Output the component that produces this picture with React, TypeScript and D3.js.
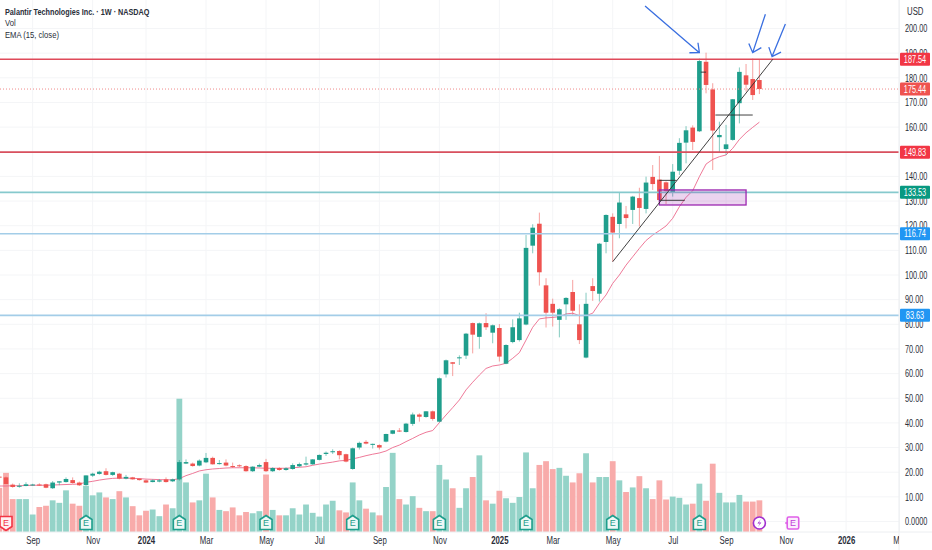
import { useEffect, useRef } from 'react';
import * as d3 from 'd3';

// weekly candles
const opens = [
    18.2, 17.9, 14.95, 14.3, 14.4, 14.7, 15.0, 15.1, 13.5, 15.8,
    16.0, 16.8, 15.8, 14.8, 18.6, 19.3, 20.4, 18.9, 19.4, 17.4,
    17.9, 17.4, 16.7, 16.0, 16.2, 17.1, 16.3, 17.1, 23.5, 23.5,
    22.7, 24.0, 25.8, 23.3, 23.9, 22.5, 22.8, 22.5, 20.4, 22.25,
    24.1, 20.4, 21.7, 20.9, 21.3, 22.4, 23.1, 23.2, 25.0, 27.4,
    28.1, 28.6, 27.3, 21.3, 30.0, 32.3, 31.2, 31.0, 32.4, 35.6,
    36.9, 36.3, 39.6, 43.4, 42.4, 44.7, 40.5, 59.7, 64.6, 66.2,
    67.3, 80.5, 74.9, 80.5, 76.6, 78.5, 64.0, 72.8, 73.6, 79.9,
    111.9, 120.8, 95.8, 88.3, 81.8, 88.1, 93.1, 80.0, 66.5, 95.5,
    92.4, 113.4, 123.6, 120.7, 124.6, 126.4, 131.2, 126.8, 139.8, 138.7,
    137.6, 133.4, 142.3, 153.7, 159.8, 158.3, 186.5, 175.3, 155.9, 151.1,
    154.8, 169.7, 181.0, 179.5, 179.1,
];
const highs = [
    18.4, 18.2, 15.4, 15.5, 15.9, 15.3, 15.5, 15.35, 16.4, 16.3,
    17.9, 17.9, 16.2, 18.7, 19.8, 20.6, 21.6, 20.2, 19.7, 18.9,
    18.1, 17.5, 17.0, 17.1, 17.25, 17.9, 17.4, 24.95, 25.2, 23.9,
    25.2, 27.8, 26.3, 24.95, 25.2, 23.9, 23.2, 22.8, 22.4, 23.5,
    25.4, 22.0, 22.0, 22.0, 23.6, 23.9, 26.3, 25.3, 27.2, 28.4,
    29.3, 28.9, 27.5, 30.0, 32.4, 33.0, 31.6, 31.3, 35.6, 37.1,
    37.9, 40.0, 44.2, 43.9, 44.8, 45.0, 58.4, 65.7, 64.7, 67.4,
    76.5, 80.7, 80.7, 84.5, 79.9, 80.1, 71.9, 82.0, 84.7, 116.2,
    120.6, 125.3, 98.7, 90.4, 86.5, 91.0, 98.0, 88.1, 92.8, 98.7,
    113.0, 124.6, 125.0, 133.4, 128.0, 132.1, 135.4, 139.9, 144.6, 148.3,
    138.0, 145.0, 155.5, 160.4, 160.7, 187.8, 190.2, 177.8, 162.2, 160.9,
    171.4, 184.2, 185.6, 187.8, 187.5,
];
const lows = [
    17.6, 15.2, 13.7, 13.7, 14.3, 14.5, 14.4, 13.5, 13.2, 14.7,
    15.8, 15.35, 14.4, 14.5, 18.1, 19.0, 18.7, 18.5, 17.1, 17.1,
    17.0, 16.6, 15.6, 15.9, 15.9, 15.8, 16.0, 16.6, 23.3, 22.25,
    22.4, 23.7, 23.1, 23.1, 22.4, 21.7, 22.0, 20.2, 20.1, 22.0,
    20.1, 20.1, 20.6, 20.6, 21.0, 22.1, 22.65, 23.0, 24.8, 26.6,
    27.4, 25.2, 24.0, 21.0, 29.2, 31.3, 29.6, 29.2, 32.1, 35.4,
    36.3, 36.1, 38.8, 40.5, 42.1, 40.9, 40.2, 58.4, 59.0, 63.5,
    65.9, 68.2, 70.1, 77.7, 72.3, 64.9, 63.8, 72.3, 73.0, 79.6,
    108.8, 95.7, 78.7, 79.1, 74.7, 81.8, 83.8, 72.0, 66.2, 89.5,
    89.2, 108.8, 105.4, 114.9, 118.9, 120.7, 119.6, 125.0, 134.5, 129.1,
    128.8, 131.8, 140.6, 145.3, 150.7, 158.0, 173.7, 142.6, 149.6, 148.7,
    154.5, 161.5, 174.4, 171.0, 173.4,
];
const closes = [
    17.8, 15.2, 14.0, 14.5, 15.1, 15.0, 14.7, 13.7, 15.8, 16.3,
    17.25, 15.6, 14.7, 18.7, 19.4, 20.2, 18.9, 20.0, 17.4, 18.1,
    17.1, 16.8, 15.8, 16.7, 16.7, 16.0, 17.1, 24.1, 24.1, 22.5,
    24.7, 25.8, 23.2, 23.7, 22.7, 22.4, 22.4, 20.4, 22.25, 22.9,
    20.4, 21.7, 20.9, 21.6, 22.9, 23.3, 23.6, 25.2, 27.0, 27.9,
    28.5, 26.9, 24.3, 29.7, 31.9, 31.6, 31.5, 30.0, 35.5, 37.0,
    36.5, 39.7, 43.4, 42.5, 44.7, 41.6, 58.1, 65.4, 64.0, 66.6,
    76.2, 75.8, 80.4, 78.8, 79.6, 66.9, 71.6, 78.8, 82.4, 111.0,
    119.2, 101.1, 84.7, 84.7, 86.1, 90.7, 85.5, 73.6, 88.3, 93.5,
    112.7, 124.35, 117.2, 129.4, 123.1, 131.8, 127.2, 137.5, 136.9, 130.4,
    134.0, 141.9, 153.6, 158.7, 154.0, 186.8, 177.1, 158.6, 156.8, 153.0,
    171.3, 182.4, 177.2, 173.0, 175.44,
];
const volumes = [
    106, 142, 79, 79, 79, 42, 60, 63, 76, 70,
    100, 68, 63, 111, 88, 95, 83, 79, 98, 83,
    62, 40, 51, 54, 38, 66, 57, 320, 119, 71,
    76, 140, 83, 53, 50, 59, 40, 48, 45, 50,
    138, 53, 40, 40, 57, 42, 66, 46, 37, 66,
    75, 52, 47, 119, 76, 56, 47, 40, 108, 190,
    79, 66, 86, 58, 50, 50, 161, 126, 105, 58,
    105, 132, 184, 76, 68, 99, 81, 70, 84, 191,
    105, 161, 170, 151, 154, 135, 119, 141, 189, 119,
    132, 132, 170, 124, 96, 107, 134, 105, 79, 124,
    78, 85, 82, 66, 68, 116, 75, 164, 94, 71,
    71, 89, 73, 73, 76,
];
const ema15 = [
    14.4, 14.4, 14.5, 14.5, 14.6, 14.7, 14.7, 14.7, 14.8, 14.9,
    15.0, 15.1, 15.2, 15.9, 16.3, 16.8, 17.2, 17.5, 17.6, 17.6,
    17.5, 17.4, 17.2, 17.1, 17.0, 16.9, 16.9, 17.4, 18.6, 19.5,
    20.5, 21.0, 21.3, 21.5, 21.7, 21.8, 21.8, 21.8, 21.8, 21.7,
    21.6, 21.6, 21.6, 21.6, 21.8, 22.0, 22.2, 22.8, 23.3, 23.7,
    24.1, 24.6, 24.8, 25.4, 26.0, 26.7, 27.3, 27.8, 28.6, 30.0,
    31.0, 32.4, 33.7, 35.1, 36.2, 36.9, 40.1, 43.2, 46.2, 49.3,
    53.4, 56.5, 59.4, 62.1, 63.1, 63.5, 64.2, 66.2, 68.5, 73.6,
    78.8, 82.2, 82.6, 82.8, 83.1, 84.2, 84.5, 83.5, 83.5, 84.5,
    88.5, 91.9, 96.6, 100.0, 104.0, 107.4, 110.8, 114.0, 116.2, 118.0,
    119.9, 123.0, 127.7, 131.5, 134.2, 139.9, 145.0, 146.9, 148.0, 148.7,
    151.4, 155.0, 157.7, 159.9, 162.0,
];

const priceTicks = d3.range(0, 210, 10);
const timeTickIdx = [5, 14, 22, 31, 40, 48, 57, 66, 75, 83, 92, 101, 109, 118, 127, 135];
const timeTickLabels = ['Sep', 'Nov', '2024', 'Mar', 'May', 'Jul', 'Sep', 'Nov', '2025', 'Mar', 'May', 'Jul', 'Sep', 'Nov', '2026', 'Mar'];

const levels = [187.54, 149.83, 133.53, 116.74, 83.63];
const levelLine = ['#df4a5a', '#d9505e', '#86c9cd', '#a3cde8', '#a3cde8'];
const levelTag = ['#f23645', '#f23645', '#089981', '#2196f3', '#2196f3'];
const lastPrice = 175.44;

// drawings, [idx, price] at both ends
const blackLines = [
    [[92, 105.4], [116, 187.5]],
    [[107.4, 164.9], [113, 164.9]],
    [[105.2, 182.3], [106, 182.3]],
    [[99, 138.4], [101.6, 138.4]],
    [[99, 130.3], [102.8, 130.3]],
];
const blueArrows = [
    [[96.85, 209.1], [105, 190.2]],
    [[114.9, 205.8], [113, 190.2]],
    [[117.9, 201.8], [115.9, 188.6]],
];
const purpleBox = { from: 99, to: 112, top: 134.5, bottom: 128.4 };

const earningsIdx = [13, 27, 40, 53, 66, 79, 92, 105];
const earningsMissIdx = [1];
const splitIdx = 114;
const nextEarningsIdx = 119;

const W = 932;
const H = 550;
const FONT = '"Liberation Sans", sans-serif';
const AXIS_SIZE = 10;

// the reference font is narrower than anything installed, so squeeze the glyphs
const squeeze = (sel: any, factor = 0.73) => {
    sel.each(function (this: SVGTextElement) {
        const len = this.getComputedTextLength();
        d3.select(this).attr('textLength', len * factor).attr('lengthAdjust', 'spacingAndGlyphs');
    });
};

export default function App() {
    const ref = useRef<SVGSVGElement>(null);

    useEffect(() => {
        if (!ref.current) return;
        const svg = d3.select(ref.current);
        svg.selectAll('*').remove();

        const paneRight = 899;
        const paneBottom = 532;

        const x = d3.scaleLinear().domain([0, 135]).range([-0.67, 899.4]);
        const y = d3.scaleLinear().domain([0, 200]).range([521.5, 28.5]);
        const yVol = d3.scaleLinear().domain([0, 320]).range([paneBottom, 398.7]);

        const upCandle = '#1f9e8c';
        const downCandle = '#ef5350';
        const isUp = (i: number) => closes[i] >= opens[i];

        svg.append('rect').attr('width', W).attr('height', H).attr('fill', '#ffffff');

        svg.append('defs').append('clipPath').attr('id', 'pane')
            .append('rect').attr('width', paneRight).attr('height', H);

        // Grid
        const grid = svg.append('g').attr('stroke', '#f4f5f7').attr('stroke-width', 1);
        grid.selectAll('.h')
            .data(priceTicks)
            .enter()
            .append('line')
            .attr('x1', 0)
            .attr('x2', paneRight)
            .attr('y1', d => y(d))
            .attr('y2', d => y(d));
        grid.selectAll('.v')
            .data(timeTickIdx)
            .enter()
            .append('line')
            .attr('x1', d => x(d))
            .attr('x2', d => x(d))
            .attr('y1', 0)
            .attr('y2', paneBottom);

        const pane = svg.append('g').attr('clip-path', 'url(#pane)');

        // Volume
        pane.selectAll('.vol')
            .data(volumes)
            .enter()
            .append('rect')
            .attr('x', (_, i) => x(i) - 2.9)
            .attr('width', 5.8)
            .attr('y', d => yVol(d))
            .attr('height', d => paneBottom - yVol(d))
            .attr('fill', (_, i) => (isUp(i) ? '#94d3c8' : '#f8abaa'));

        // EMA
        const emaLine = d3.line<number>().x((_, i) => x(i)).y(d => y(d));
        pane.append('path')
            .attr('d', emaLine(ema15))
            .attr('fill', 'none')
            .attr('stroke', '#ec6a8c')
            .attr('stroke-width', 0.9);

        // Candles
        pane.selectAll('.wick')
            .data(closes)
            .enter()
            .append('line')
            .attr('x1', (_, i) => x(i))
            .attr('x2', (_, i) => x(i))
            .attr('y1', (_, i) => y(highs[i]))
            .attr('y2', (_, i) => y(lows[i]))
            .attr('stroke', (_, i) => (isUp(i) ? upCandle : downCandle))
            .attr('stroke-opacity', 0.55)
            .attr('stroke-width', 1);
        pane.selectAll('.body')
            .data(closes)
            .enter()
            .append('rect')
            .attr('x', (_, i) => x(i) - 2.3)
            .attr('width', 4.6)
            .attr('y', (_, i) => y(Math.max(opens[i], closes[i])))
            .attr('height', (_, i) => Math.max(1, Math.abs(y(opens[i]) - y(closes[i]))))
            .attr('fill', (_, i) => (isUp(i) ? upCandle : downCandle));

        // Horizontal levels
        pane.selectAll('.level')
            .data(levels)
            .enter()
            .append('line')
            .attr('x1', 0)
            .attr('x2', paneRight)
            .attr('y1', d => y(d))
            .attr('y2', d => y(d))
            .attr('stroke', (_, i) => levelLine[i])
            .attr('stroke-width', 1.6);
        pane.append('line')
            .attr('x1', 0)
            .attr('x2', paneRight)
            .attr('y1', y(lastPrice))
            .attr('y2', y(lastPrice))
            .attr('stroke', '#f08a8a')
            .attr('stroke-width', 1)
            .attr('stroke-dasharray', '1 2');

        // Purple zone
        pane.append('rect')
            .attr('x', x(purpleBox.from))
            .attr('y', y(purpleBox.top))
            .attr('width', x(purpleBox.to) - x(purpleBox.from))
            .attr('height', y(purpleBox.bottom) - y(purpleBox.top))
            .attr('fill', '#9c27b0')
            .attr('fill-opacity', 0.2)
            .attr('stroke', '#9c27b0')
            .attr('stroke-width', 1.3);

        // Trend line and short black rays
        pane.selectAll('.black')
            .data(blackLines)
            .enter()
            .append('line')
            .attr('x1', d => x(d[0][0]))
            .attr('y1', d => y(d[0][1]))
            .attr('x2', d => x(d[1][0]))
            .attr('y2', d => y(d[1][1]))
            .attr('stroke', '#2b2b2b')
            .attr('stroke-width', 0.9);

        // Blue arrows
        const arrowPath = (a: number[][]) => {
            const x0 = x(a[0][0]), y0 = y(a[0][1]), x1 = x(a[1][0]), y1 = y(a[1][1]);
            const back = Math.atan2(y0 - y1, x0 - x1);
            const barb = (off: number) => `${x1 + 10 * Math.cos(back + off)},${y1 + 10 * Math.sin(back + off)}`;
            return `M${x0},${y0}L${x1},${y1}M${barb(0.72)}L${x1},${y1}L${barb(-0.72)}`;
        };
        pane.selectAll('.arrow')
            .data(blueArrows)
            .enter()
            .append('path')
            .attr('d', arrowPath)
            .attr('fill', 'none')
            .attr('stroke', '#3a6fe0')
            .attr('stroke-width', 1.3);

        // Earnings badges
        const badgeY = 523;
        const badge = (g: d3.Selection<SVGGElement, unknown, null, undefined>, cx: number, color: string, shape: string, fill: string) => {
            const b = g.append('g').attr('transform', `translate(${cx},${badgeY})`);
            b.append('path').attr('d', shape).attr('fill', fill).attr('stroke', color).attr('stroke-width', 1.6);
            b.append('text')
                .attr('text-anchor', 'middle')
                .attr('dy', '0.36em')
                .attr('font-size', 9)
                .attr('font-family', FONT)
                .attr('fill', color)
                .text('E');
        };
        const badges = svg.append('g');
        const house = 'M0,-7.5L6,-3.5V6.5H-6V-3.5Z';
        const shield = 'M-6,-6.5H6V3.5L0,7.5L-6,3.5Z';
        earningsIdx.forEach(i => badge(badges, x(i), '#1f9e8c', house, '#eef8f6'));
        earningsMissIdx.forEach(i => badge(badges, x(i), '#f23645', shield, '#fff1f2'));

        const split = badges.append('g').attr('transform', `translate(${x(splitIdx)},${badgeY})`);
        split.append('circle').attr('r', 6).attr('fill', '#ffffff').attr('stroke', '#a02fd0').attr('stroke-width', 1.6);
        split.append('path').attr('d', 'M1.5,-4L-2,0.6H0.5L-1.5,4L2,-0.6H-0.5Z').attr('fill', '#a02fd0');

        const next = badges.append('g').attr('transform', `translate(${x(nextEarningsIdx)},${badgeY})`);
        next.append('rect').attr('x', -5.5).attr('y', -6).attr('width', 11.5).attr('height', 12).attr('rx', 1.5)
            .attr('fill', '#fbeefd').attr('stroke', '#df5fe8').attr('stroke-width', 1.6);
        next.append('path').attr('d', 'M-5.5,-1L-7.5,0L-5.5,1').attr('fill', 'none').attr('stroke', '#df5fe8');
        next.append('text')
            .attr('text-anchor', 'middle')
            .attr('dy', '0.36em')
            .attr('x', 0.3)
            .attr('font-size', 9)
            .attr('font-family', FONT)
            .attr('fill', '#c040d8')
            .text('E');

        // Pane borders
        svg.append('line').attr('x1', paneRight).attr('x2', paneRight).attr('y1', 0).attr('y2', H)
            .attr('stroke', '#eceef1').attr('stroke-width', 1);
        svg.append('line').attr('x1', 0).attr('x2', W).attr('y1', paneBottom).attr('y2', paneBottom)
            .attr('stroke', '#eceef1').attr('stroke-width', 1);

        // Price axis
        const priceAxis = d3.axisRight(y)
            .tickValues(priceTicks)
            .tickSize(0)
            .tickPadding(6)
            .tickFormat(d => (+d === 0 ? '0.0000' : (+d).toFixed(2)));
        const priceG = svg.append('g')
            .attr('transform', `translate(${paneRight},0)`)
            .call(priceAxis);
        priceG.select('.domain').remove();
        const priceLabels = priceG.selectAll('text')
            .attr('font-family', FONT)
            .attr('font-size', AXIS_SIZE)
            .attr('fill', '#2a2e39');
        squeeze(priceLabels);

        // Time axis
        const timeAxis = d3.axisBottom(x)
            .tickValues(timeTickIdx)
            .tickSize(0)
            .tickPadding(5)
            .tickFormat((_, i) => timeTickLabels[i]);
        const timeG = svg.append('g')
            .attr('transform', `translate(0,${paneBottom})`)
            .attr('clip-path', 'url(#pane)')
            .call(timeAxis);
        timeG.select('.domain').remove();
        const timeLabels = timeG.selectAll('text')
            .attr('font-family', FONT)
            .attr('font-size', AXIS_SIZE)
            .attr('fill', '#2a2e39')
            .attr('font-weight', (_, i) => (/^20/.test(timeTickLabels[i]) ? 700 : 400));
        squeeze(timeLabels, 0.78);

        // Price tags
        const tags = levels.map((v, i) => ({ v, color: levelTag[i] })).concat({ v: lastPrice, color: '#ef5350' });
        const tag = svg.selectAll('.tag').data(tags).enter().append('g');
        tag.append('rect')
            .attr('x', 900)
            .attr('y', d => y(d.v) - 6.5)
            .attr('width', 30)
            .attr('height', 13)
            .attr('rx', 1)
            .attr('fill', d => d.color);
        const tagLabels = tag.append('text')
            .attr('x', 915)
            .attr('y', d => y(d.v))
            .attr('dy', '0.36em')
            .attr('text-anchor', 'middle')
            .attr('font-family', FONT)
            .attr('font-size', AXIS_SIZE)
            .attr('fill', '#ffffff')
            .text(d => d.v.toFixed(2));
        squeeze(tagLabels);

        // Legend
        const legend = [
            { text: 'Palantir Technologies Inc. · 1W · NASDAQ', y: 11, weight: 700 },
            { text: 'Vol', y: 22.5, weight: 400 },
            { text: 'EMA (15, close)', y: 34, weight: 400 },
        ];
        const legendText = svg.selectAll('.legend')
            .data(legend)
            .enter()
            .append('text')
            .attr('x', 5)
            .attr('y', d => d.y)
            .attr('dy', '0.36em')
            .attr('font-family', FONT)
            .attr('font-size', 9.8)
            .attr('font-weight', d => d.weight)
            .attr('fill', '#2a2e39')
            .text(d => d.text);
        squeeze(legendText.filter(d => d.weight === 700), 0.74);
        squeeze(legendText.filter(d => d.weight === 400), 0.78);

        const usd = svg.append('text')
            .attr('x', 907)
            .attr('y', 11)
            .attr('dy', '0.36em')
            .attr('font-family', FONT)
            .attr('font-size', AXIS_SIZE)
            .attr('fill', '#2a2e39')
            .text('USD');
        squeeze(usd, 0.78);
    }, []);

    return <svg ref={ref} width={W} height={H} style={{ position: 'absolute', left: 0, top: 0, display: 'block' }} />;
}
